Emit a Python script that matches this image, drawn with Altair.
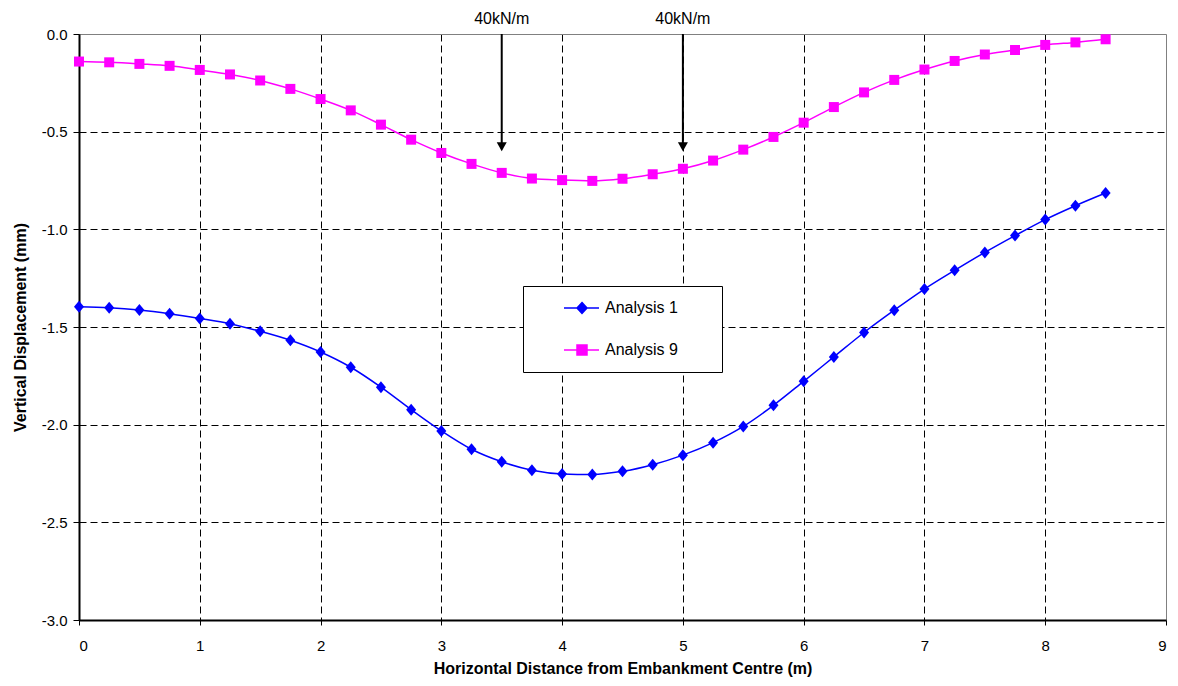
import altair as alt
import pandas as pd

# ---- data ----
distance = [0.0, 0.25, 0.5, 0.75, 1.0, 1.25, 1.5, 1.75, 2.0, 2.25, 2.5, 2.75, 3.0,
            3.25, 3.5, 3.75, 4.0, 4.25, 4.5, 4.75, 5.0, 5.25, 5.5, 5.75, 6.0, 6.25,
            6.5, 6.75, 7.0, 7.25, 7.5, 7.75, 8.0, 8.25, 8.5]
analysis1 = [-1.396, -1.401, -1.413, -1.432, -1.456, -1.483, -1.522, -1.568, -1.628,
             -1.706, -1.808, -1.923, -2.032, -2.126, -2.190, -2.233, -2.252, -2.255,
             -2.239, -2.205, -2.156, -2.092, -2.009, -1.901, -1.778, -1.653, -1.528,
             -1.414, -1.306, -1.210, -1.118, -1.032, -0.950, -0.879, -0.814]
analysis9 = [-0.141, -0.145, -0.153, -0.163, -0.184, -0.207, -0.238, -0.281, -0.333,
             -0.391, -0.464, -0.541, -0.609, -0.665, -0.711, -0.740, -0.748, -0.752,
             -0.741, -0.718, -0.690, -0.648, -0.592, -0.527, -0.454, -0.374, -0.299,
             -0.235, -0.182, -0.138, -0.105, -0.082, -0.056, -0.043, -0.027]
series_names = ["Analysis 1", "Analysis 9"]
series_colors = ["#0000FF", "#FF00FF"]

load_x = [3.5, 5.0]
load_top = [0.0, 0.0]
load_tip = [-0.6, -0.6]
load_label = ["40kN/m", "40kN/m"]

x_ticks = [0, 1, 2, 3, 4, 5, 6, 7, 8, 9]
y_ticks = [0.0, -0.5, -1.0, -1.5, -2.0, -2.5, -3.0]

FONT = "Liberation Sans"

rows = []
for d, v1, v9 in zip(distance, analysis1, analysis9):
    rows.append({"x": d, "y": v1, "series": series_names[0]})
    rows.append({"x": d, "y": v9, "series": series_names[1]})
df = pd.DataFrame(rows)
loads = pd.DataFrame({"x": load_x, "top": load_top, "tip": load_tip, "label": load_label})

xscale = alt.Scale(domain=[0, 9], nice=False, zero=False)
yscale = alt.Scale(domain=[-3, 0], nice=False, zero=False)

x_axis = alt.Axis(
    values=x_ticks, format="d", title="Horizontal Distance from Embankment Centre (m)",
    labelFont=FONT, labelFontSize=15, labelColor="black", labelPadding=13,
    tickSize=5, tickColor="black", domainColor="black", domainWidth=2,
    titleFont=FONT, titleFontSize=16, titleFontWeight="bold", titleColor="black",
    titleBaseline="alphabetic", titleY=53,
    grid=True,
    gridColor={"condition": {"test": "datum.value == 9", "value": "#808080"}, "value": "#000000"},
    gridDash={"condition": {"test": "datum.value == 9", "value": []}, "value": [7, 4]},
    gridWidth=1,
)
y_axis = alt.Axis(
    values=y_ticks, title="Vertical Displacement (mm)",
    labelExpr="replace(format(datum.value, '.1f'), '\u2212', '-')",
    labelFont=FONT, labelFontSize=15, labelColor="black", labelPadding=6,
    tickSize=6, tickColor="black", domainColor="black", domainWidth=2,
    titleFont=FONT, titleFontSize=16, titleFontWeight="bold", titleColor="black",
    titleBaseline="alphabetic", titleX=-54,
    grid=True,
    gridColor={"condition": {"test": "datum.value == 0", "value": "#808080"}, "value": "#000000"},
    gridDash={"condition": {"test": "datum.value == 0", "value": []}, "value": [7, 4]},
    gridWidth=1,
)

base = alt.Chart(df)
X = alt.X("x:Q", scale=xscale, axis=x_axis)
Y = alt.Y("y:Q", scale=yscale, axis=y_axis)

layers = []
marker_shapes = ["M0,-1.2L1,0L0,1.2L-1,0Z", "square"]
for name, col, shp in zip(series_names, series_colors, marker_shapes):
    sub = base.transform_filter(alt.datum.series == name)
    layers.append(sub.mark_line(color=col, strokeWidth=1.5, interpolate="monotone").encode(x=X, y=Y))
    layers.append(sub.mark_point(shape=shp, filled=True, color=col, size=100, opacity=1).encode(x=X, y=Y))

legend_paths = ["M3.8,0H10.8M7.4,-1.1L8.4,0L7.4,1.1L6.4,0ZM32,0",
                "M3.8,0H10.8M6.4,-1L8.4,-1L8.4,1L6.4,1ZM32,0"]
leg = alt.Legend(
    title=None, orient="none", legendX=444, legendY=252, padding=14,
    fillColor="white", strokeColor="black",
    labelFont=FONT, labelFontSize=16, labelColor="black", labelOffset=52,
    rowPadding=25, symbolSize=100, symbolStrokeWidth=1.5, symbolOpacity=1,
)
legend_layer = base.mark_point(filled=True, opacity=0, size=100).encode(
    x=X, y=Y,
    color=alt.Color("series:N", scale=alt.Scale(domain=series_names, range=series_colors), legend=leg),
    stroke=alt.Stroke("series:N", scale=alt.Scale(domain=series_names, range=series_colors), legend=leg),
    shape=alt.Shape("series:N", scale=alt.Scale(domain=series_names, range=legend_paths), legend=leg),
)
layers.append(legend_layer)

lb = alt.Chart(loads)
arrow_rule = lb.mark_rule(color="black", strokeWidth=2, y2Offset=-4).encode(
    x=alt.X("x:Q", scale=xscale), y=alt.Y("top:Q", scale=yscale), y2="tip:Q")
arrow_head = lb.mark_point(shape="M-1,-1.8L1,-1.8L0,0Z", filled=True, color="black",
                           size=100, opacity=1).encode(
    x=alt.X("x:Q", scale=xscale), y=alt.Y("tip:Q", scale=yscale))
arrow_text = lb.mark_text(font=FONT, fontSize=16, color="black", baseline="alphabetic",
                          align="center", dy=-10).encode(
    x=alt.X("x:Q", scale=xscale), y=alt.Y("top:Q", scale=yscale), text="label:N")
layers += [arrow_rule, arrow_head, arrow_text]

chart = alt.layer(*layers).properties(
    width=1087, height=586,
    autosize=alt.AutoSizeParams(type="none"),
    padding={"left": 71, "top": 26, "right": 4, "bottom": 58},
).configure_view(stroke=None).configure(font=FONT, background="white")

chart.save("out.html", embed_options={"renderer": "svg", "actions": False})
